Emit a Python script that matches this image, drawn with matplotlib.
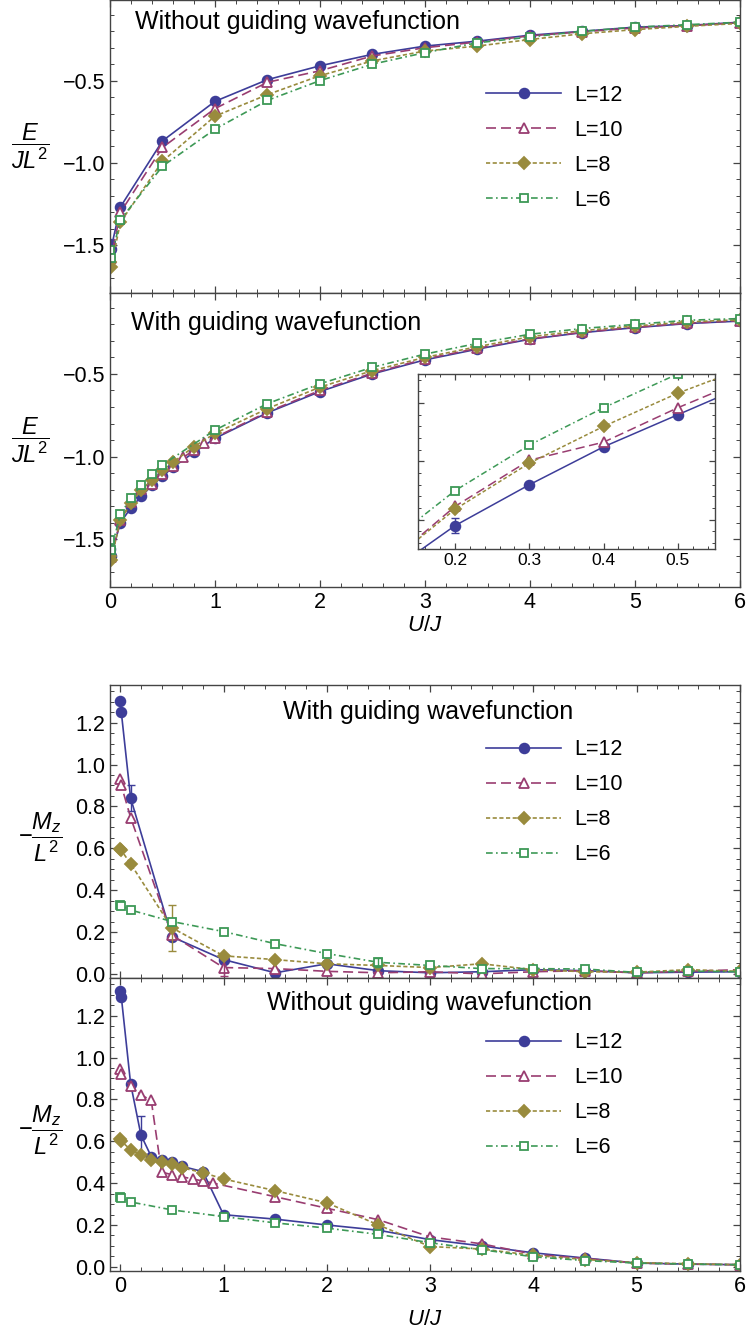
import matplotlib
matplotlib.use("Agg")
import matplotlib.pyplot as plt
from matplotlib.ticker import MultipleLocator

plt.rcParams['font.family'] = ['Liberation Sans', 'DejaVu Sans']
plt.rcParams['mathtext.fontset'] = 'custom'
plt.rcParams['mathtext.it'] = 'Liberation Sans:italic'
plt.rcParams['mathtext.rm'] = 'Liberation Sans'

# ---- data: energy without guiding wavefunction ----
u_e1 = [0, 0.01, 0.1, 0.5, 1, 1.5, 2, 2.5, 3, 3.5, 4, 4.5, 5, 5.5, 6]
e1_L12 = [-1.49, -1.52, -1.267, -0.866, -0.626, -0.494, -0.41, -0.34, -0.29, -0.26, -0.224, -0.20, -0.175, -0.165, -0.145]
e1_L10 = [-1.55, -1.58, -1.30, -0.906, -0.67, -0.51, -0.44, -0.35, -0.30, -0.265, -0.228, -0.203, -0.18, -0.167, -0.148]
e1_L8 = [-1.60, -1.635, -1.36, -0.99, -0.716, -0.585, -0.47, -0.38, -0.32, -0.29, -0.25, -0.215, -0.19, -0.17, -0.152]
e1_L6 = [-1.53, -1.58, -1.345, -1.02, -0.795, -0.62, -0.50, -0.40, -0.33, -0.27, -0.235, -0.20, -0.175, -0.16, -0.145]

# ---- data: energy with guiding wavefunction ----
u_e2_L12 = [0, 0.01, 0.1, 0.2, 0.3, 0.4, 0.5, 0.6, 0.8, 1, 1.5, 2, 2.5, 3, 3.5, 4, 4.5, 5, 5.5, 6]
e2_L12 = [-1.56, -1.60, -1.40, -1.31, -1.24, -1.175, -1.12, -1.065, -0.975, -0.89, -0.735, -0.607, -0.50, -0.415, -0.35, -0.29, -0.25, -0.22, -0.195, -0.18]
e2_L12_err = [0, 0, 0, 0.013, 0, 0, 0, 0, 0, 0, 0, 0, 0, 0, 0, 0, 0, 0, 0, 0]
u_e2_L10 = [0, 0.01, 0.1, 0.2, 0.3, 0.4, 0.5, 0.6, 0.7, 0.8, 0.9, 1, 1.5, 2, 2.5, 3, 3.5, 4, 4.5, 5, 5.5, 6]
e2_L10 = [-1.58, -1.61, -1.385, -1.277, -1.198, -1.167, -1.108, -1.055, -1.005, -0.96, -0.92, -0.885, -0.73, -0.60, -0.495, -0.41, -0.345, -0.288, -0.248, -0.218, -0.193, -0.178]
u_e2_L8 = [0, 0.01, 0.1, 0.2, 0.3, 0.4, 0.5, 0.6, 0.8, 1, 1.5, 2, 2.5, 3, 3.5, 4, 4.5, 5, 5.5, 6]
e2_L8 = [-1.60, -1.625, -1.385, -1.282, -1.203, -1.14, -1.083, -1.035, -0.94, -0.86, -0.71, -0.58, -0.48, -0.40, -0.335, -0.275, -0.238, -0.21, -0.185, -0.172]
u_e2_L6 = [0, 0.01, 0.1, 0.2, 0.3, 0.4, 0.5, 1, 1.5, 2, 2.5, 3, 3.5, 4, 4.5, 5, 5.5, 6]
e2_L6 = [-1.506, -1.565, -1.35, -1.25, -1.172, -1.108, -1.05, -0.84, -0.68, -0.56, -0.46, -0.38, -0.315, -0.26, -0.225, -0.20, -0.175, -0.165]

# ---- data: magnetisation with guiding wavefunction ----
u_m1 = [0, 0.01, 0.1, 0.5, 1, 1.5, 2, 2.5, 3, 3.5, 4, 4.5, 5, 5.5, 6]
m1_L12 = [1.306, 1.25, 0.84, 0.177, 0.068, 0.005, 0.048, 0.015, 0.005, 0.01, 0.02, 0.015, 0.005, 0.008, 0.01]
m1_L12_err = [0, 0, 0.06, 0, 0, 0, 0, 0, 0, 0, 0, 0, 0, 0, 0]
m1_L10 = [0.93, 0.90, 0.747, 0.185, 0.03, 0.025, 0.012, 0.005, 0.01, 0.0, 0.01, 0.015, 0.005, 0.012, 0.02]
m1_L10_err = [0, 0, 0, 0, 0.04, 0, 0, 0, 0, 0, 0, 0, 0, 0, 0]
m1_L8 = [0.598, 0.59, 0.526, 0.22, 0.086, 0.068, 0.048, 0.04, 0.03, 0.048, 0.02, 0.01, 0.008, 0.02, 0.012]
m1_L8_err = [0, 0, 0, 0.11, 0, 0, 0, 0, 0, 0, 0, 0, 0, 0, 0]
m1_L6 = [0.33, 0.325, 0.305, 0.25, 0.202, 0.144, 0.097, 0.055, 0.04, 0.025, 0.025, 0.023, 0.007, 0.013, 0.01]
m1_L6_err = [0, 0, 0, 0, 0, 0, 0, 0.02, 0, 0, 0, 0, 0, 0, 0]

# ---- data: magnetisation without guiding wavefunction ----
u_m2_L12 = [0, 0.01, 0.1, 0.2, 0.3, 0.4, 0.5, 0.6, 0.8, 1, 1.5, 2, 2.5, 3, 3.5, 4, 4.5, 5, 5.5, 6]
m2_L12 = [1.317, 1.29, 0.875, 0.63, 0.527, 0.512, 0.50, 0.48, 0.455, 0.249, 0.228, 0.20, 0.175, 0.13, 0.10, 0.067, 0.042, 0.018, 0.013, 0.01]
m2_L12_err = [0, 0, 0, 0.09, 0, 0, 0, 0, 0, 0, 0, 0, 0, 0, 0, 0, 0, 0, 0, 0]
u_m2_L10 = [0, 0.01, 0.1, 0.2, 0.3, 0.4, 0.5, 0.6, 0.7, 0.8, 0.9, 1.5, 2, 2.5, 3, 3.5, 4, 4.5, 5, 5.5, 6]
m2_L10 = [0.943, 0.92, 0.862, 0.822, 0.795, 0.453, 0.44, 0.43, 0.42, 0.41, 0.40, 0.335, 0.28, 0.225, 0.143, 0.11, 0.06, 0.04, 0.018, 0.013, 0.01]
u_m2_L8 = [0, 0.01, 0.1, 0.2, 0.3, 0.4, 0.5, 0.6, 0.8, 1, 1.5, 2, 2.5, 3, 3.5, 4, 4.5, 5, 5.5, 6]
m2_L8 = [0.61, 0.60, 0.56, 0.535, 0.512, 0.50, 0.49, 0.473, 0.45, 0.42, 0.364, 0.306, 0.20, 0.097, 0.085, 0.055, 0.035, 0.02, 0.015, 0.01]
u_m2_L6 = [0, 0.01, 0.1, 0.5, 1, 1.5, 2, 2.5, 3, 3.5, 4, 4.5, 5, 5.5, 6]
m2_L6 = [0.335, 0.33, 0.31, 0.272, 0.24, 0.21, 0.185, 0.155, 0.115, 0.082, 0.048, 0.03, 0.018, 0.013, 0.01]

labels = ["L=12", "L=10", "L=8", "L=6"]

c12 = '#3D3D99'
c10 = '#993D71'
c8 = '#998B3D'
c6 = '#3D9956'
# style per system size: colour, marker, face, dashes
styles = [
    dict(color=c12, marker='o', mfc=c12, ls='-', ms=7),
    dict(color=c10, marker='^', mfc='white', ls=(0, (6, 3)), ms=7.5),
    dict(color=c8, marker='D', mfc=c8, ls=(0, (2.5, 1.5)), ms=6),
    dict(color=c6, marker='s', mfc='white', ls=(0, (4, 2, 1, 2)), ms=6.3),
]

frame_col = '#444444'


def style_axes(ax, xminor=0.2, ymaj=0.5, ymin=0.1):
    for s in ax.spines.values():
        s.set_color(frame_col)
        s.set_linewidth(1.0)
    ax.xaxis.set_major_locator(MultipleLocator(1))
    ax.xaxis.set_minor_locator(MultipleLocator(xminor))
    ax.yaxis.set_major_locator(MultipleLocator(ymaj))
    ax.yaxis.set_minor_locator(MultipleLocator(ymin))
    ax.tick_params(which='both', direction='in', top=True, right=True, colors=frame_col,
                   labelcolor='black', labelsize=15.5)
    ax.tick_params(which='major', length=5, width=0.9)
    ax.tick_params(which='minor', length=3, width=0.7)


def draw(ax, xs, ys, errs=None, lw=1.2):
    for i in range(4):
        st = styles[i]
        ax.plot(xs[i], ys[i], color=st['color'], ls=st['ls'], lw=lw, marker=st['marker'],
                ms=st['ms'], mfc=st['mfc'], mec=st['color'], mew=1.3, label=labels[i])
        if errs is not None and errs[i] is not None:
            ex = [x for x, e in zip(xs[i], errs[i]) if e > 0]
            ey = [y for y, e in zip(ys[i], errs[i]) if e > 0]
            ee = [e for e in errs[i] if e > 0]
            ax.errorbar(ex, ey, yerr=ee, fmt='none', ecolor=st['color'], elinewidth=1.0,
                        capsize=3, capthick=1.0)


def add_legend(ax, y):
    ax.legend(loc='upper left', bbox_to_anchor=(0.597, y), frameon=False, fontsize=15.5,
              handlelength=3.5, handletextpad=0.6, labelspacing=0.65, borderpad=0,
              borderaxespad=0)


fig = plt.figure(figsize=(7.48, 13.33), dpi=100)

ax1 = fig.add_axes([0.147, 0.7802, 0.842, 0.2198])
ax2 = fig.add_axes([0.147, 0.5596, 0.842, 0.2206])
ax3 = fig.add_axes([0.147, 0.2663, 0.842, 0.2198])
ax4 = fig.add_axes([0.147, 0.0465, 0.842, 0.2198])

# panel 1
draw(ax1, [u_e1] * 4, [e1_L12, e1_L10, e1_L8, e1_L6])
ax1.set_xlim(0, 6)
ax1.set_ylim(-1.79, -0.01)
style_axes(ax1)
ax1.tick_params(labelbottom=False)
ax1.text(0.04, 0.925, "Without guiding wavefunction", transform=ax1.transAxes,
         fontsize=18, va='center', ha='left')
add_legend(ax1, 0.71)

# panel 2
draw(ax2, [u_e2_L12, u_e2_L10, u_e2_L8, u_e2_L6], [e2_L12, e2_L10, e2_L8, e2_L6],
     errs=[e2_L12_err, None, None, None])
ax2.set_xlim(0, 6)
ax2.set_ylim(-1.79, -0.01)
style_axes(ax2)
ax2.text(0.033, 0.898, "With guiding wavefunction", transform=ax2.transAxes,
         fontsize=18, va='center', ha='left')
ax2.set_xlabel(r'$U/J$', fontsize=16)
ax2.xaxis.set_label_coords(0.5, -0.095)

for ax in (ax1, ax2):
    ax.set_ylabel(r'$\dfrac{E}{JL^2}$', fontsize=17, rotation=0, va='center', ha='center')
    ax.yaxis.set_label_coords(-0.127, 0.5)

# inset
axi = fig.add_axes([0.5588, 0.5882, 0.397, 0.1313])
draw(axi, [u_e2_L12, u_e2_L10, u_e2_L8, u_e2_L6], [e2_L12, e2_L10, e2_L8, e2_L6],
     errs=[e2_L12_err, None, None, None], lw=1.1)
axi.set_xlim(0.15, 0.55)
axi.set_ylim(-1.35, -1.05)
style_axes(axi, xminor=0.02, ymaj=0.1, ymin=0.02)
axi.xaxis.set_major_locator(MultipleLocator(0.1))
axi.tick_params(labelleft=False, labelsize=12.5, pad=3)
axi.tick_params(which='major', length=4)
axi.tick_params(which='minor', length=2)
axi.set_facecolor('white')

# panel 3
draw(ax3, [u_m1] * 4, [m1_L12, m1_L10, m1_L8, m1_L6],
     errs=[m1_L12_err, m1_L10_err, m1_L8_err, m1_L6_err])
ax3.set_xlim(-0.1, 6)
ax3.set_ylim(-0.02, 1.38)
style_axes(ax3, ymaj=0.2, ymin=0.05)
ax3.tick_params(labelbottom=False)
ax3.text(0.275, 0.908, "With guiding wavefunction", transform=ax3.transAxes,
         fontsize=18, va='center', ha='left')
add_legend(ax3, 0.815)

# panel 4
draw(ax4, [u_m2_L12, u_m2_L10, u_m2_L8, u_m2_L6], [m2_L12, m2_L10, m2_L8, m2_L6],
     errs=[m2_L12_err, None, None, None])
ax4.set_xlim(-0.1, 6)
ax4.set_ylim(-0.02, 1.38)
style_axes(ax4, ymaj=0.2, ymin=0.05)
ax4.text(0.249, 0.915, "Without guiding wavefunction", transform=ax4.transAxes,
         fontsize=18, va='center', ha='left')
add_legend(ax4, 0.815)
ax4.set_xlabel(r'$U/J$', fontsize=16)
ax4.xaxis.set_label_coords(0.5, -0.13)

for ax in (ax3, ax4):
    ax.set_ylabel(r'$-\dfrac{M_z}{L^2}$', fontsize=17, rotation=0, va='center', ha='center')
    ax.yaxis.set_label_coords(-0.111, 0.48)

fig.savefig("out.png", dpi=100)
